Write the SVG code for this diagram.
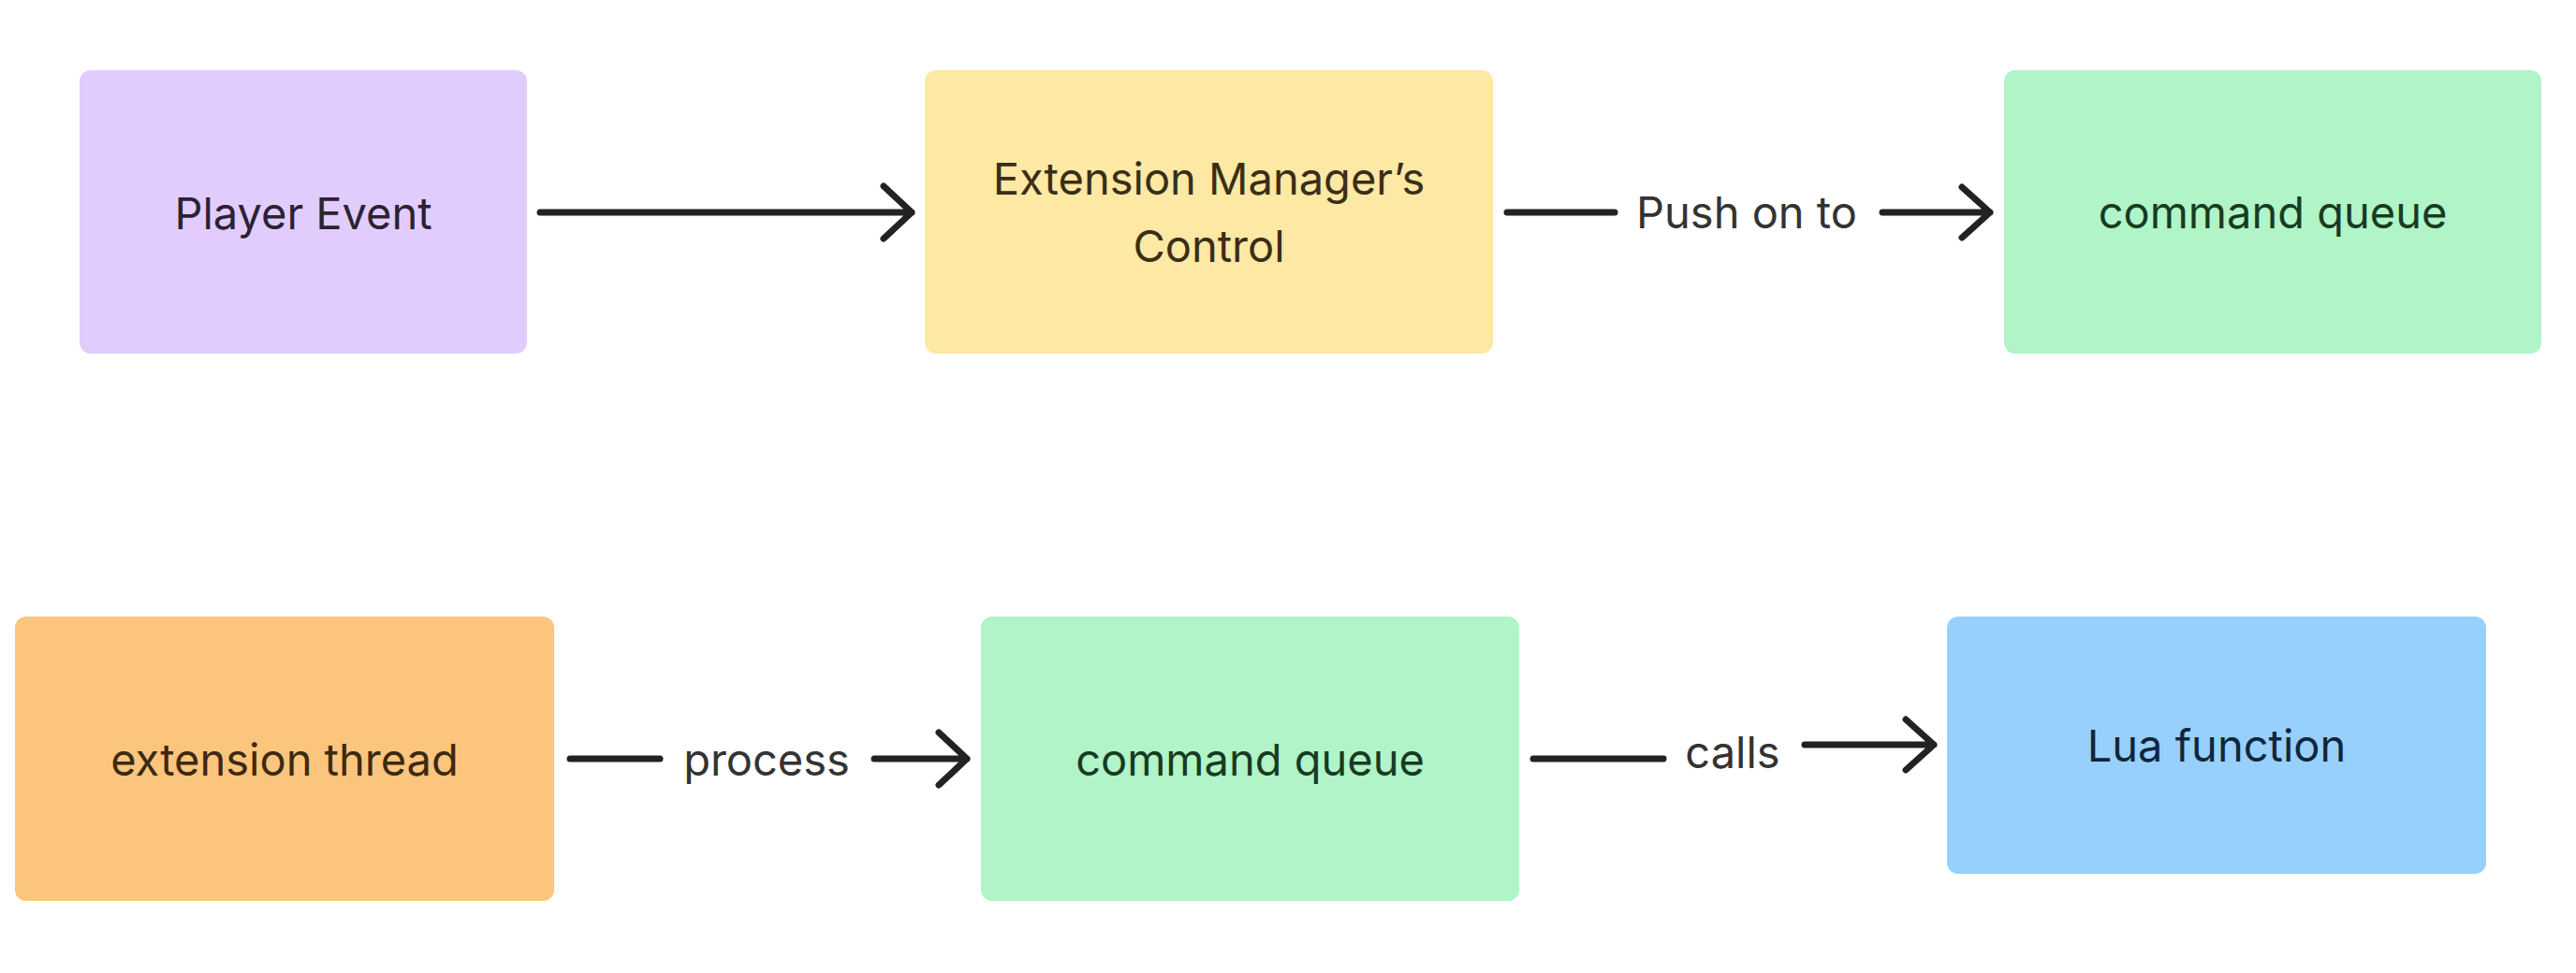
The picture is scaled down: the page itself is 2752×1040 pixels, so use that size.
<svg xmlns="http://www.w3.org/2000/svg" width="2752" height="1040" viewBox="0 0 2752 1040">
<style>
.box{rx:12;ry:12}
.t{font-family:Inter,"Liberation Sans",sans-serif;font-size:47px;text-anchor:middle}
.lbl{font-family:Inter,"Liberation Sans",sans-serif;font-size:47px;fill:#333333;text-anchor:middle}
.ln{stroke:#222222;stroke-width:7;stroke-linecap:round;stroke-linejoin:round;fill:none}
</style>
<rect width="2752" height="1040" fill="#ffffff"/>
<g id="player-event">
<rect class="box" x="85" y="75" width="478" height="303" fill="#E2CCFE"/>
<text class="t" x="324" y="245" fill="#2B2233">Player Event</text>
</g>
<g id="ext-manager">
<rect class="box" x="988" y="75" width="607" height="303" fill="#FDE8A4"/>
<text class="t" x="1291.5" y="208" fill="#3A2E16">Extension Manager’s</text>
<text class="t" x="1291.5" y="280" fill="#3A2E16">Control</text>
</g>
<g id="command-queue-1">
<rect class="box" x="2141" y="75" width="574" height="303" fill="#B0F4C8"/>
<text class="t" x="2428" y="244" fill="#173B22">command queue</text>
</g>
<g id="extension-thread">
<rect class="box" x="16" y="659" width="576" height="304" fill="#FCC57D"/>
<text class="t" x="304" y="829" fill="#3C2A12">extension thread</text>
</g>
<g id="command-queue-2">
<rect class="box" x="1048" y="659" width="575" height="304" fill="#B0F4C8"/>
<text class="t" x="1335.5" y="829" fill="#173B22">command queue</text>
</g>
<g id="lua-function">
<rect class="box" x="2080" y="659" width="576" height="275" fill="#97D0FC"/>
<text class="t" x="2368" y="814" fill="#10263A">Lua function</text>
</g>
<g id="connectors">
<path class="ln" d="M577 227 H974 M944 199 L974 227 L944 255"/>
<path class="ln" d="M1610 227 H1725"/>
<text class="lbl" x="1866" y="244">Push on to</text>
<path class="ln" d="M2011 227 H2126 M2096 200 L2126 227 L2096 254"/>
<path class="ln" d="M609 811 H705"/>
<text class="lbl" x="819" y="829">process</text>
<path class="ln" d="M934 811 H1033 M1003 783 L1033 811 L1003 839"/>
<path class="ln" d="M1638 811 H1777"/>
<text class="lbl" x="1851" y="821">calls</text>
<path class="ln" d="M1928 796 H2066 M2036 769 L2066 796 L2036 823"/>
</g>
</svg>
